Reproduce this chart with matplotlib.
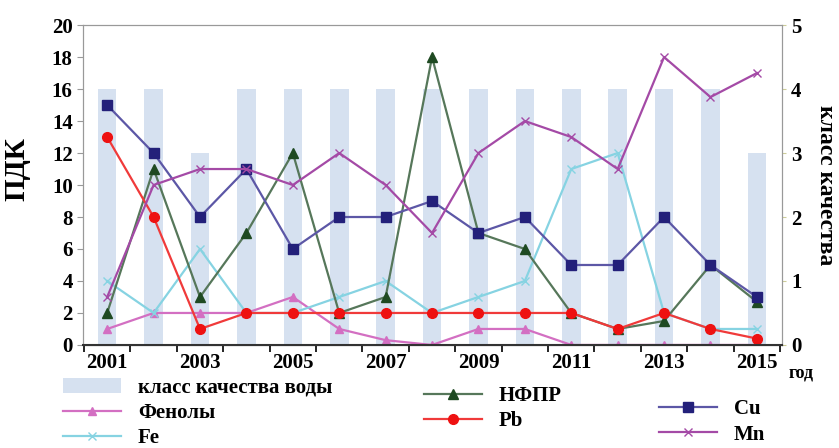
#! /usr/bin/env python3
# Water quality indicators (ПДК) and water quality class by year

import matplotlib
matplotlib.use('Agg')
import matplotlib.pyplot as plt
import numpy as np

years = [2001, 2002, 2003, 2004, 2005, 2006, 2007, 2008,
         2009, 2010, 2011, 2012, 2013, 2014, 2015]
quality_class = [4, 4, 3, 4, 4, 4, 4, 4, 4, 4, 4, 4, 4, 4, 3]

cu = [15, 12, 8, 11, 6, 8, 8, 9, 7, 8, 5, 5, 8, 5, 3]
mn = [3, 10, 11, 11, 10, 12, 10, 7, 12, 14, 13, 11, 18, 15.5, 17]
nfpr = [2, 11, 3, 7, 12, 2, 3, 18, 7, 6, 2, 1, 1.5, 5, 2.7]
pb = [13, 8, 1, 2, 2, 2, 2, 2, 2, 2, 2, 1, 2, 1, 0.4]
fe = [4, 2, 6, 2, 2, 3, 4, 2, 3, 4, 11, 12, 2, 1, 1]
phenols = [1, 2, 2, 2, 3, 1, 0.3, 0, 1, 1, 0, 0, 0, 0, 0]

plt.rcParams['font.family'] = ['Liberation Serif', 'DejaVu Serif']
plt.rcParams['font.weight'] = 'bold'
fs = 15

fig = plt.figure(figsize=(8.39, 4.48), dpi=100)
ax = fig.add_axes([0.099, 0.230, 0.833, 0.714])
ax2 = ax.twinx()

# bars on the right axis, behind the lines
ax.set_zorder(ax2.get_zorder() + 1)
ax.patch.set_visible(False)
bars = ax2.bar(years, quality_class, width=0.4, color='#d6e1f0', zorder=1,
               label='класс качества воды')
ax2.set_ylim(0, 5)
ax2.set_yticks(range(0, 6))

lw = 1.6
l_phen, = ax.plot(years, phenols, color='#d36fc2', marker='^', markersize=6,
                  lw=lw, label='Фенолы')
l_fe, = ax.plot(years, fe, color='#86d3e2', marker='x', markersize=6,
                lw=lw, label='Fe')
l_nfpr, = ax.plot(years, nfpr, color='#56775a', marker='^', markersize=7,
                  markerfacecolor='#1f4a22', markeredgecolor='#1f4a22',
                  lw=lw, label='НФПР')
l_pb, = ax.plot(years, pb, color='#f03a3a', marker='o', markersize=7,
                markerfacecolor='#ee1111', markeredgecolor='#ee1111',
                lw=lw, label='Pb')
l_cu, = ax.plot(years, cu, color='#5c57a6', marker='s', markersize=6.5,
                markerfacecolor='#23207a', markeredgecolor='#23207a',
                lw=lw, label='Cu')
l_mn, = ax.plot(years, mn, color='#a44aa6', marker='x', markersize=6,
                lw=lw, label='Mn')

ax.set_ylim(0, 20)
ax.set_yticks(range(0, 21, 2))
ax.set_xlim(2000.48, 2015.54)
ax.set_xticks([2001, 2003, 2005, 2007, 2009, 2011, 2013, 2015])
ax.set_xticks(np.arange(2000.5, 2015.6, 1), minor=True)
ax.tick_params(axis='x', which='major', length=0, labelsize=fs, pad=6)
ax.tick_params(axis='x', which='minor', length=5, width=1.2)
ax.tick_params(axis='y', labelsize=fs, length=4, color='#999999')
ax2.tick_params(axis='y', labelsize=fs, length=3, color='#cccc99')

for s in ['top', 'left', 'right']:
    ax.spines[s].set_color('#999999')
    ax2.spines[s].set_color('#999999')
ax.spines['bottom'].set_color('#333333')
ax.spines['bottom'].set_linewidth(1.5)

ax.set_ylabel('ПДК', fontsize=21, fontweight='bold')
ax.yaxis.set_label_coords(-0.075, 0.55)
ax2.set_ylabel('класс качества', fontsize=17, fontweight='bold',
               rotation=-90)
ax2.yaxis.set_label_coords(1.078, 0.50)
fig.text(0.955, 0.168, 'год', fontsize=13, fontweight='bold',
         ha='center', va='center')

leg_kw = dict(frameon=False, fontsize=fs, handlelength=2.8,
              labelspacing=0.25, handletextpad=0.8, borderaxespad=0)
fig.legend(handles=[bars, l_phen, l_fe], loc='upper left',
           bbox_to_anchor=(0.065, 0.175), **leg_kw)
fig.legend(handles=[l_nfpr, l_pb], loc='upper left',
           bbox_to_anchor=(0.495, 0.157), **leg_kw)
fig.legend(handles=[l_cu, l_mn], loc='upper left',
           bbox_to_anchor=(0.775, 0.127), **leg_kw)

plt.savefig('out.png', dpi=100)
